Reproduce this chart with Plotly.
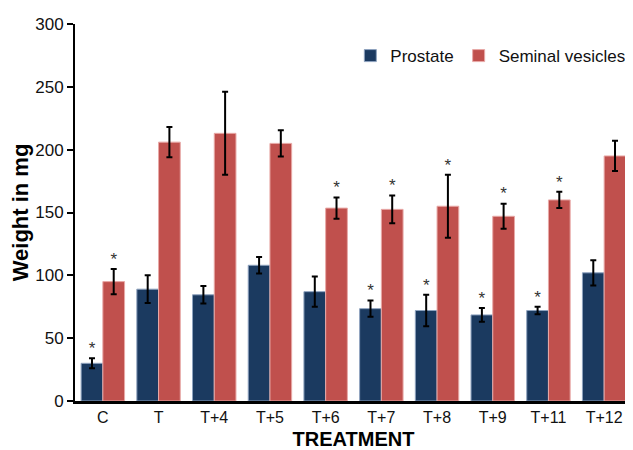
import plotly.graph_objects as go

# Data
treatments = ["C", "T", "T+4", "T+5", "T+6", "T+7", "T+8", "T+9", "T+11", "T+12"]

prostate = [30, 89, 84.5, 108, 87, 73.5, 72, 68.5, 72, 102]
prostate_err = [4, 11, 7, 6.5, 12, 6.5, 12.5, 5.5, 3, 10]
prostate_sig = [True, False, False, False, False, True, True, True, True, False]

seminal = [95, 206, 213, 205, 153.5, 152.5, 155, 147, 160, 195]
seminal_err = [10, 12, 33, 10.5, 8.5, 11, 25, 10, 6.5, 12]
seminal_sig = [True, False, False, False, True, True, True, True, True, False]

navy = "#1B3A60"
red = "#C0504D"

fig = go.Figure()

fig.add_trace(go.Bar(x=treatments, y=prostate, name="Prostate"
    ,marker=dict(color=navy, line=dict(color="#8FA3BF", width=1))
    ,offsetgroup="p"
    ,error_y=dict(type="data", array=prostate_err, color="black", thickness=2, width=3)))

fig.add_trace(go.Bar(x=treatments, y=seminal, name="Seminal vesicles"
    ,marker=dict(color=red, line=dict(color="#E8A9A7", width=1))
    ,offsetgroup="s"
    ,error_y=dict(type="data", array=seminal_err, color="black", thickness=2, width=3)))

# Significance stars above the error bars
for vals, errs, sig, grp in [(prostate, prostate_err, prostate_sig, "p"), (seminal, seminal_err, seminal_sig, "s")]:
    fig.add_trace(go.Scatter(x=treatments
        ,y=[v + e if s else None for v, e, s in zip(vals, errs, sig)]
        ,mode="text", text=["*" if s else "" for s in sig]
        ,textposition="top center"
        ,textfont=dict(size=17, color="#333333", family="Arial, Liberation Sans, sans-serif")
        ,offsetgroup=grp, showlegend=False, hoverinfo="skip", cliponaxis=False))

# page body has an 8px margin, so margins are shifted to compensate
fig.update_layout(
    width=633, height=450
    ,barmode="group", scattermode="group", bargap=0.22, bargroupgap=0, scattergap=0.22
    ,plot_bgcolor="white", paper_bgcolor="white"
    ,margin=dict(l=67, r=9, t=16, b=57)
    ,font=dict(family="Arial, Liberation Sans, sans-serif", color="black")
    ,legend=dict(orientation="h", x=0.997, y=0.915, xanchor="right", yanchor="middle"
        ,font=dict(size=17, color="#111111"), itemwidth=30, traceorder="normal")
    ,showlegend=True
)

fig.update_yaxes(range=[0, 300], tickvals=[0, 50, 100, 150, 200, 250, 300], automargin=False
    ,showline=True, linecolor="black", linewidth=2, ticks="outside", ticklen=6, tickwidth=2, tickcolor="black"
    ,showgrid=False, zeroline=False, tickfont=dict(size=17, color="#111111")
    ,title=dict(text="<b>Weight in mg</b>", font=dict(size=22), standoff=10))

fig.update_xaxes(showline=True, linecolor="black", linewidth=3, ticks="", showgrid=False, automargin=False
    ,tickfont=dict(size=16, color="#111111")
    ,title=dict(text="<b>TREATMENT</b>", font=dict(size=20), standoff=7))

fig.write_html("out.html")
